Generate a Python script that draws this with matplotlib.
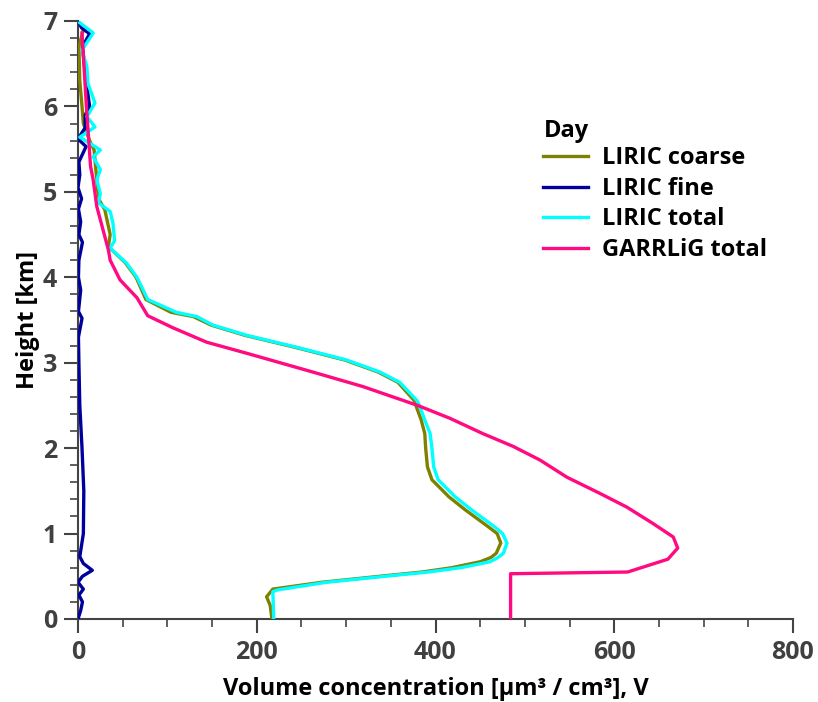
import matplotlib
matplotlib.use("Agg")
from matplotlib import pyplot as plt
from matplotlib.ticker import MultipleLocator

# LIRIC coarse
coarse_h = [0, 0.16, 0.26, 0.35, 0.43, 0.51, 0.55, 0.60, 0.67, 0.72, 0.77, 0.89, 1.0, 1.08, 1.28, 1.43, 1.63,
            1.78, 2.0, 2.17, 2.33, 2.50, 2.56, 2.77, 2.89, 3.03, 3.18, 3.32, 3.44, 3.54, 3.59, 3.74,
            4.0, 4.17, 4.36, 4.5, 4.79, 4.90, 5.02, 5.26, 5.49, 5.60, 5.80, 6.00, 6.30, 6.70, 6.90, 7.0]
coarse_v = [217, 215, 211, 218, 273, 347, 385, 418, 450, 462, 468, 473, 469, 459, 433, 415, 396,
            391, 389, 388, 384, 378, 376, 358, 336, 299, 243, 187, 149, 129, 104, 76,
            65, 53, 34, 36, 30, 24, 22, 20, 18, 13, 6, 4.5, 2, 1, 6, 0]

# LIRIC fine
fine_h = [0, 0.1, 0.2, 0.28, 0.35, 0.43, 0.5, 0.57, 0.65, 0.73, 1.0, 1.5, 2.0, 2.5, 3.0,
          3.3, 3.52, 3.6, 3.85, 4.0, 4.2, 4.41, 4.5, 4.65, 4.8, 4.92, 5.05, 5.2, 5.35, 5.53,
          5.62, 5.75, 5.9, 6.0, 6.3, 6.5, 6.7, 6.85, 6.92, 7.0]
fine_v = [0, 3, 5, 1, 6, 0, 5, 16, 6, 2, 6, 6.5, 4.5, 2, 1,
          0.5, 4.5, 0.5, 3, 0.5, 1, 5, 1, 3, 0.5, 4, 0, 2, 1, 9,
          0, 8, 8, 13, 9, 7, 5, 13, 4, 0]

# LIRIC total
total_h = [0, 0.32, 0.34, 0.43, 0.51, 0.55, 0.60, 0.67, 0.72, 0.77, 0.89, 1.0, 1.08, 1.28, 1.43, 1.63, 1.78,
           2.0, 2.17, 2.33, 2.50, 2.56, 2.77, 2.89, 3.03, 3.18, 3.32, 3.44, 3.54, 3.59, 3.74, 4.0,
           4.17, 4.34, 4.43, 4.64, 4.77, 4.87, 4.98, 5.14, 5.26, 5.41, 5.49, 5.57, 5.64, 5.76, 5.88,
           6.04, 6.27, 6.46, 6.66, 6.86, 6.98]
total_v = [219, 218, 223, 278, 353, 392, 428, 461, 470, 476, 480, 475, 466, 440, 422, 403, 398,
           396, 394, 388, 382, 379, 360, 338, 301, 245, 189, 151, 133, 110, 78, 66,
           54, 36, 41, 39, 36, 23, 25, 21, 25, 17, 25, 13, 2, 19, 10,
           19, 11, 10, 4.5, 17, 2]

# GARRLiG total
garr_h = [0, 0.53, 0.55, 0.70, 0.83, 0.96, 1.12, 1.31, 1.47, 1.66, 1.86, 2.02, 2.17, 2.35, 2.50, 2.72,
          2.89, 3.11, 3.24, 3.41, 3.55, 3.76, 3.97, 4.2, 4.32, 4.83, 5.14, 5.3, 5.76, 6.07, 6.86]
garr_v = [484, 484, 615, 660, 671, 666, 643, 614, 584, 547, 517, 487, 453, 416, 380, 319,
          263, 189, 144, 106, 78, 66, 47, 36, 34, 21, 17, 14, 11, 9, 4.5]

plt.rcParams['font.family'] = ['Open Sans', 'DejaVu Sans']

fig = plt.figure(figsize=(8.18, 7.02), dpi=100)
ax = fig.add_axes([78 / 818, 83 / 702, 715 / 818, 598 / 702])

ax.plot(coarse_v, coarse_h, color='#808000', lw=2.4, label='LIRIC coarse')
ax.plot(fine_v, fine_h, color='#00009c', lw=2.4, label='LIRIC fine')
ax.plot(total_v, total_h, color='#00ffff', lw=2.4, label='LIRIC total')
ax.plot(garr_v, garr_h, color='#ff0a80', lw=2.4, label='GARRLiG total')

ax.set_xlim(0, 800)
ax.set_ylim(0, 7)
ax.xaxis.set_major_locator(MultipleLocator(200))
ax.xaxis.set_minor_locator(MultipleLocator(50))
ax.yaxis.set_major_locator(MultipleLocator(1))
ax.yaxis.set_minor_locator(MultipleLocator(0.2))

for s in ['top', 'right']:
    ax.spines[s].set_visible(False)
for s in ['left', 'bottom']:
    ax.spines[s].set_color('#444444')
    ax.spines[s].set_linewidth(1.5)
    ax.spines[s].set_zorder(0)

ax.tick_params(which='major', direction='out', length=10, width=1.5, color='#444444',
               labelsize=18, labelcolor='#404040', pad=5)
ax.tick_params(which='minor', direction='out', length=6, width=1.2, color='#444444')
for lab in ax.get_xticklabels() + ax.get_yticklabels():
    lab.set_fontweight('bold')

ax.set_xlabel('Volume concentration [μm³ / cm³], V', fontsize=17, fontweight='bold', labelpad=9)
ax.set_ylabel('Height [km]', fontsize=17, fontweight='bold', labelpad=2)

leg = ax.legend(title='Day', loc='upper left', bbox_to_anchor=(534 / 818, 1 - 110 / 702),
                bbox_transform=fig.transFigure, frameon=False,
                prop={'size': 17, 'weight': 'bold'}, handlelength=1.9, handletextpad=0.6,
                labelspacing=0.28, borderaxespad=0)
leg.get_title().set_fontweight('bold')
leg.get_title().set_fontsize(17)
leg._legend_box.align = 'left'
leg._legend_box.sep = 2

fig.savefig('out.png', dpi=100)
